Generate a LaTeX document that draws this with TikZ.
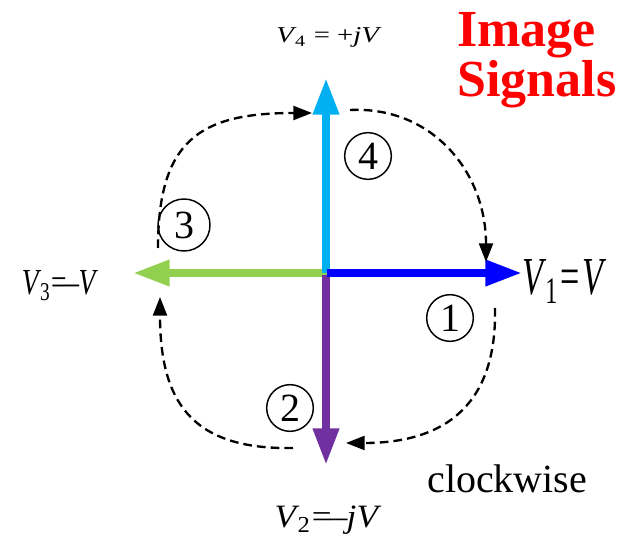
\documentclass[tikz,border=0pt]{standalone}
\usepackage{fontspec}
\setmainfont{Liberation Serif}
\usepackage{graphicx}
\usetikzlibrary{arrows.meta}
\definecolor{vblue}{RGB}{0,0,255}
\definecolor{vcyan}{RGB}{0,176,240}
\definecolor{vgreen}{RGB}{146,208,80}
\definecolor{vpurple}{RGB}{112,48,160}
\definecolor{vred}{RGB}{255,0,0}
\tikzset{
  phasor/.style={line width=6pt, -{Triangle[length=27.5pt,width=18.5pt]}},
  rot/.style={line width=1.75pt, dash pattern=on 6.5pt off 3.8pt, -{Triangle[length=14pt,width=10.5pt]}},
  numc/.style={circle, draw, line width=1.1pt, inner sep=0pt, minimum size=35pt, font=\fontsize{30pt}{34pt}\selectfont},
  vlab/.style={anchor=base, inner sep=0pt},
}
\begin{document}
\begin{tikzpicture}[x=0.75pt,y=-0.75pt]
\useasboundingbox (0,0) rectangle (633,538);
% phasors
\coordinate (O) at (327,273);
\coordinate (t1) at (522,273);
\coordinate (t2) at (326,465);
\coordinate (t3) at (133,273);
\coordinate (t4) at (326,78);
\draw[phasor, vgreen] (O) -- (t3);
\draw[phasor, vpurple] (326,275) -- (t2);
\draw[phasor, vcyan] (326,273) -- (t4);
\draw[phasor, vblue] (O) -- (t1);
% rotation arrows
\coordinate (a1s) at (350,110); \coordinate (a1e) at (486,262);
\coordinate (a2s) at (158,248); \coordinate (a2e) at (312,113);
\coordinate (a3s) at (293,448); \coordinate (a3e) at (160,297);
\coordinate (a4s) at (495,308); \coordinate (a4e) at (346,443);
\draw[rot] (a1s) .. controls (432,106) and (486,172) .. (a1e);
\draw[rot] (a2s) .. controls (158,140) and (200,113) .. (a2e);
\draw[rot] (a3s) .. controls (190,450) and (160,400) .. (a3e);
\draw[rot] (a4s) .. controls (497,400) and (450,443) .. (a4e);
% numbered circles
\node[numc] (n1) at (450,318) {1};
\node[numc] (n2) at (290,408) {2};
\node[numc, minimum size=39pt] (n3) at (184,225) {3};
\node[numc] (n4) at (368,156) {4};
% labels
\node[vlab] (l1) at (565,295) {\resizebox{63pt}{26.25pt}{\textit{V}\kern-0.05em\textsubscript{1}\kern0.05em=\kern0.08em\textit{V}}};
\node[vlab] (l2) at (328,528) {\resizebox{80pt}{16.2pt}{\textit{V}\kern-0.05em\textsubscript{2}=\kern-0.05em–\kern-0.02em\textit{jV}}};
\node[vlab] (l3) at (60,295) {\resizebox{57pt}{18pt}{\textit{V}\kern-0.05em\textsubscript{3}=\kern-0.05em–\kern-0.02em\textit{V}}};
\node[vlab] (l4) at (329,43) {\resizebox{79pt}{11.25pt}{\textit{V}\kern-0.05em\textsubscript{4} = +\textit{jV}}};
\node[anchor=base west, inner sep=0pt, align=left, text=vred, font=\bfseries\fontsize{39pt}{37.5pt}\selectfont] (title) at (457,97) {Image\\Signals};
\node[anchor=base west, inner sep=0pt, font=\fontsize{30pt}{36pt}\selectfont] (cw) at (427,493) {clockwise};
\end{tikzpicture}
\end{document}
